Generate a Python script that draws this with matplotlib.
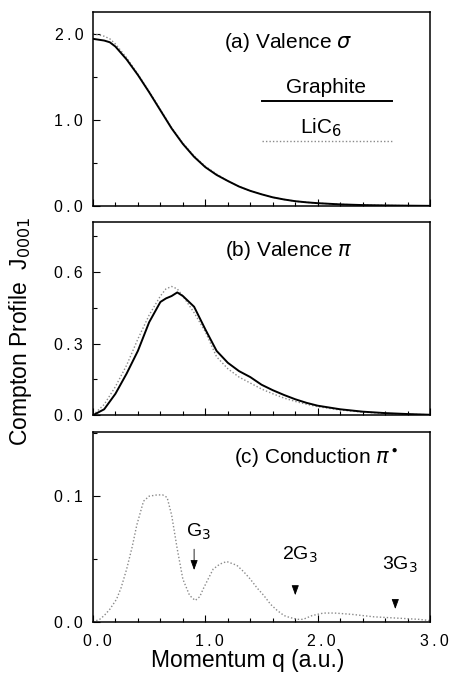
import numpy as np
import matplotlib
matplotlib.use("Agg")
import matplotlib.pyplot as plt
import matplotlib.transforms as mtransforms
from matplotlib.ticker import MultipleLocator, FuncFormatter

plt.rcParams['font.family'] = ['Liberation Sans', 'DejaVu Sans']
plt.rcParams['mathtext.fontset'] = 'dejavusans'

# (a) valence sigma
q_a = [0, 0.1, 0.15, 0.2, 0.3, 0.4, 0.5, 0.6, 0.7, 0.8, 0.9, 1.0, 1.1, 1.2, 1.3,
       1.4, 1.5, 1.6, 1.7, 1.8, 1.9, 2.0, 2.2, 2.4, 2.6, 2.8, 3.0]
graphite_a = [1.94, 1.92, 1.90, 1.85, 1.70, 1.52, 1.32, 1.11, 0.90, 0.72, 0.57, 0.45,
              0.36, 0.29, 0.225, 0.175, 0.135, 0.10, 0.075, 0.055, 0.042, 0.032,
              0.018, 0.010, 0.006, 0.003, 0.001]
lic6_a = [2.00, 1.97, 1.94, 1.88, 1.72, 1.53, 1.33, 1.12, 0.91, 0.73, 0.58, 0.46,
          0.37, 0.29, 0.225, 0.175, 0.135, 0.10, 0.075, 0.055, 0.042, 0.032,
          0.018, 0.010, 0.006, 0.003, 0.001]

# (b) valence pi
q_b = [0, 0.1, 0.2, 0.3, 0.4, 0.5, 0.6, 0.65, 0.7, 0.75, 0.8, 0.9, 1.0, 1.1, 1.2,
       1.3, 1.4, 1.5, 1.6, 1.7, 1.8, 1.9, 2.0, 2.2, 2.4, 2.6, 2.8, 3.0]
graphite_b = [0.0, 0.025, 0.09, 0.175, 0.27, 0.39, 0.475, 0.49, 0.50, 0.515, 0.50,
              0.455, 0.36, 0.27, 0.22, 0.185, 0.16, 0.128, 0.105, 0.085, 0.067,
              0.052, 0.040, 0.025, 0.015, 0.009, 0.005, 0.002]
lic6_b = [0.0, 0.045, 0.12, 0.21, 0.32, 0.42, 0.50, 0.53, 0.54, 0.53, 0.50, 0.43,
          0.35, 0.245, 0.195, 0.16, 0.135, 0.11, 0.09, 0.072, 0.058, 0.046, 0.036,
          0.022, 0.013, 0.008, 0.004, 0.002]

# (c) conduction pi* (LiC6 only)
q_c = [0.0, 0.06, 0.1, 0.15, 0.21, 0.25, 0.3, 0.35, 0.39, 0.45, 0.5, 0.57, 0.62,
       0.66, 0.7, 0.75, 0.8, 0.86, 0.91, 0.95, 0.98, 1.03, 1.07, 1.13, 1.19, 1.28,
       1.34, 1.40, 1.46, 1.52, 1.58, 1.64, 1.70, 1.75, 1.82, 1.87, 1.95, 2.05,
       2.15, 2.3, 2.5, 2.7, 2.9, 3.0]
lic6_c = [0.0, 0.002, 0.005, 0.010, 0.018, 0.027, 0.042, 0.060, 0.077, 0.096, 0.100,
          0.101, 0.101, 0.099, 0.085, 0.058, 0.034, 0.021, 0.017, 0.020, 0.026,
          0.035, 0.042, 0.046, 0.048, 0.045, 0.040, 0.034, 0.027, 0.021, 0.014,
          0.009, 0.005, 0.0035, 0.002, 0.002, 0.005, 0.007, 0.007, 0.006, 0.004,
          0.003, 0.002, 0.001]

# G3 markers: label, q position, text height, arrow tail, arrow tip
g_labels = [r'G$_{3}$', r'2G$_{3}$', r'3G$_{3}$']
g_q = [0.90, 1.80, 2.69]
g_text_y = [0.072, 0.053, 0.045]
g_tail = [0.060, 0.027, 0.016]
g_tip = [0.039, 0.019, 0.008]


def spaced(v, pos):
    # scanned labels are letter-spaced, imitate with thin spaces
    return '\u2009'.join('%.1f' % v)


fig = plt.figure(figsize=(4.49, 6.73), dpi=100)
ax_a = fig.add_axes([0.207, 0.694, 0.751, 0.288])
ax_b = fig.add_axes([0.207, 0.383, 0.751, 0.287])
ax_c = fig.add_axes([0.207, 0.076, 0.751, 0.282])

solid = dict(color='black', lw=1.4)
dotted = dict(color='#8a8a8a', lw=1.0, ls=(0, (1, 1.5)))

ax_a.plot(q_a, lic6_a, **dotted)
ax_a.plot(q_a, graphite_a, **solid)
ax_b.plot(q_b, lic6_b, **dotted)
ax_b.plot(q_b, graphite_b, **solid)
ax_c.plot(q_c, lic6_c, **dotted)

for ax, ymax, major, minor in [(ax_a, 2.25, 1.0, 0.5),
                               (ax_b, 0.81, 0.3, 0.15),
                               (ax_c, 0.151, 0.1, 0.05)]:
    ax.set_xlim(0, 3.0)
    ax.set_ylim(0, ymax)
    ax.xaxis.set_major_locator(MultipleLocator(1.0))
    ax.xaxis.set_minor_locator(MultipleLocator(0.2))
    ax.yaxis.set_major_locator(MultipleLocator(major))
    ax.yaxis.set_minor_locator(MultipleLocator(minor))
    ax.yaxis.set_major_formatter(FuncFormatter(spaced))
    ax.tick_params(which='both', direction='in', top=False, right=False, width=0.8)
    ax.tick_params(which='major', length=5)
    ax.tick_params(which='minor', length=3)
    ax.tick_params(axis='y', labelsize=11.5, pad=7)
    for s in ax.spines.values():
        s.set_linewidth(1.1)

for ax in (ax_a, ax_b):
    ax.tick_params(axis='x', labelbottom=False)

ax_c.xaxis.set_major_formatter(FuncFormatter(spaced))
ax_c.tick_params(axis='x', labelsize=11.5, pad=9)
shift = mtransforms.ScaledTranslation(4 / 100, 0, fig.dpi_scale_trans)
for lab in ax_c.get_xticklabels():
    lab.set_transform(lab.get_transform() + shift)

# panel titles
ax_a.text(0.58, 0.845, r'(a) Valence $\sigma$', transform=ax_a.transAxes,
          ha='center', va='center', fontsize=15)
ax_b.text(0.58, 0.855, r'(b) Valence $\pi$', transform=ax_b.transAxes,
          ha='center', va='center', fontsize=15)
ax_c.text(0.66, 0.863, r'(c) Conduction $\pi^{\bullet}$', transform=ax_c.transAxes,
          ha='center', va='center', fontsize=15)

# legend in panel (a)
ax_a.plot([0.50, 0.887], [0.541, 0.541], transform=ax_a.transAxes, **solid)
ax_a.plot([0.50, 0.887], [0.335, 0.335], transform=ax_a.transAxes, **dotted)
ax_a.text(0.69, 0.613, 'Graphite', transform=ax_a.transAxes,
          ha='center', va='center', fontsize=15)
ax_a.text(0.675, 0.402, r'LiC$_{6}$', transform=ax_a.transAxes,
          ha='center', va='center', fontsize=15)

# G3 arrows
for lab, q, ty, tail, tip in zip(g_labels, g_q, g_text_y, g_tail, g_tip):
    ax_c.annotate('', xy=(q, tip), xytext=(q, tail),
                  arrowprops=dict(arrowstyle='-|>,head_length=0.6,head_width=0.22',
                                  color='black', lw=0.6))
    ax_c.text(q + 0.04, ty, lab, ha='center', va='center', fontsize=14)

fig.text(0.045, 0.508, r'Compton Profile  J$_{0001}$', rotation=90,
         ha='center', va='center', fontsize=16.5)
fig.text(0.552, 0.019, 'Momentum q (a.u.)', ha='center', va='center', fontsize=16.5)

fig.savefig('out.png', dpi=100)
